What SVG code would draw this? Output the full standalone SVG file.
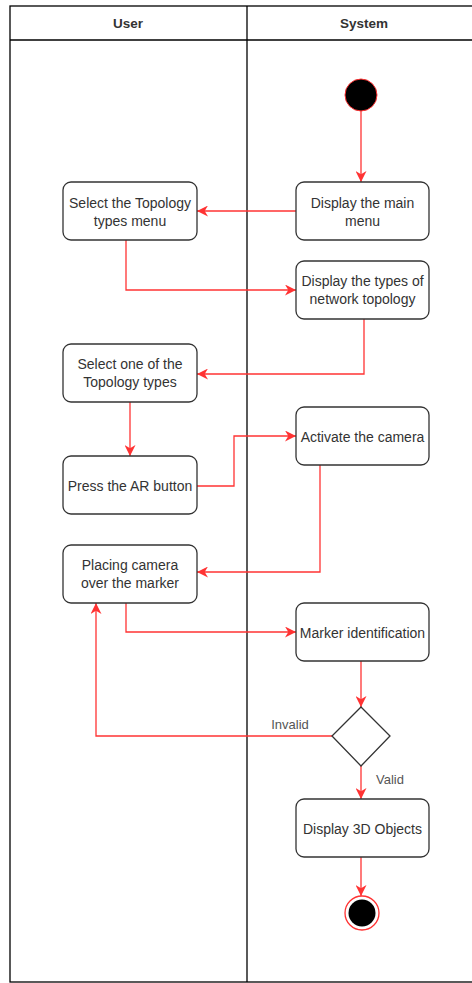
<svg xmlns="http://www.w3.org/2000/svg" width="472" height="983" viewBox="0 0 472 983">
<style>
.lane{fill:none;stroke:#000;stroke-width:1.3}
.hdr{font-family:"Liberation Sans",Arial,sans-serif;font-size:13.5px;font-weight:bold;fill:#333;text-anchor:middle;dominant-baseline:central}
.box{fill:#fff;stroke:#333;stroke-width:1.3}
.t{font-family:"Liberation Sans",Arial,sans-serif;font-size:14px;fill:#333;text-anchor:middle;dominant-baseline:central}
.e{fill:none;stroke:#ff3333;stroke-width:1.3;marker-end:url(#arr)}
.lbl{font-family:"Liberation Sans",Arial,sans-serif;font-size:13px;fill:#555;text-anchor:middle;dominant-baseline:central}
</style>
<defs>
<marker id="arr" viewBox="0 0 10 10" refX="10" refY="5" markerWidth="11" markerHeight="11" markerUnits="userSpaceOnUse" orient="auto">
<path d="M0,0 L10,5 L0,10 L3,5 z" fill="#ff3333"/>
</marker>
</defs>
<rect width="472" height="983" fill="#fff"/>
<g id="pool">
<rect x="10" y="6" width="474" height="976" class="lane"/>
<line x1="10" y1="40" x2="484" y2="40" class="lane"/>
<line x1="247" y1="6" x2="247" y2="982" class="lane"/>
<text x="128" y="23" class="hdr">User</text>
<text x="364" y="23" class="hdr">System</text>
</g>
<g id="connectors">
<path d="M361,111 V182" class="e"/>
<path d="M296,211 H197" class="e"/>
<path d="M126,240 V290 H296" class="e"/>
<path d="M364,319 V374 H197" class="e"/>
<path d="M130,402 V456" class="e"/>
<path d="M197,486 H234 V436 H296" class="e"/>
<path d="M320,465 V572 H197" class="e"/>
<path d="M126,603 V632 H296" class="e"/>
<path d="M361,661 V707" class="e"/>
<path d="M332,736 H96 V603" class="e"/>
<path d="M361,766 V799" class="e"/>
<path d="M361,857 V896" class="e"/>
<text x="290" y="724" class="lbl">Invalid</text>
<text x="390" y="779" class="lbl">Valid</text>
</g>
<g id="start"><circle cx="361" cy="95" r="16" fill="#000" stroke="#ff3333" stroke-width="1"/></g>
<g id="n1"><rect x="296" y="182" width="133" height="58" rx="8" class="box"/><text x="362.5" y="203" class="t">Display the main</text><text x="362.5" y="221" class="t">menu</text></g>
<g id="n2"><rect x="63" y="182" width="134" height="58" rx="8" class="box"/><text x="130" y="203" class="t">Select the Topology</text><text x="130" y="221" class="t">types menu</text></g>
<g id="n3"><rect x="296" y="261" width="133" height="58" rx="8" class="box"/><text x="362.5" y="281" class="t">Display the types of</text><text x="362.5" y="299" class="t">network topology</text></g>
<g id="n4"><rect x="63" y="344" width="134" height="58" rx="8" class="box"/><text x="130" y="364" class="t">Select one of the</text><text x="130" y="382" class="t">Topology types</text></g>
<g id="n5"><rect x="63" y="456" width="134" height="58" rx="8" class="box"/><text x="130" y="486" class="t">Press the AR button</text></g>
<g id="n6"><rect x="296" y="407" width="133" height="58" rx="8" class="box"/><text x="362.5" y="437" class="t">Activate the camera</text></g>
<g id="n7"><rect x="63" y="545" width="134" height="58" rx="8" class="box"/><text x="130" y="565" class="t">Placing camera</text><text x="130" y="583" class="t">over the marker</text></g>
<g id="n8"><rect x="296" y="603" width="133" height="58" rx="8" class="box"/><text x="362.5" y="633" class="t">Marker identification</text></g>
<g id="decision"><path d="M361,707 L390,736 L361,766 L332,736 Z" class="box"/></g>
<g id="n9"><rect x="296" y="799" width="133" height="58" rx="8" class="box"/><text x="362.5" y="829" class="t">Display 3D Objects</text></g>
<g id="end"><circle cx="362" cy="913" r="17" fill="#fff" stroke="#ff3333" stroke-width="1.3"/><circle cx="362" cy="913" r="13.5" fill="#000"/></g>
</svg>
